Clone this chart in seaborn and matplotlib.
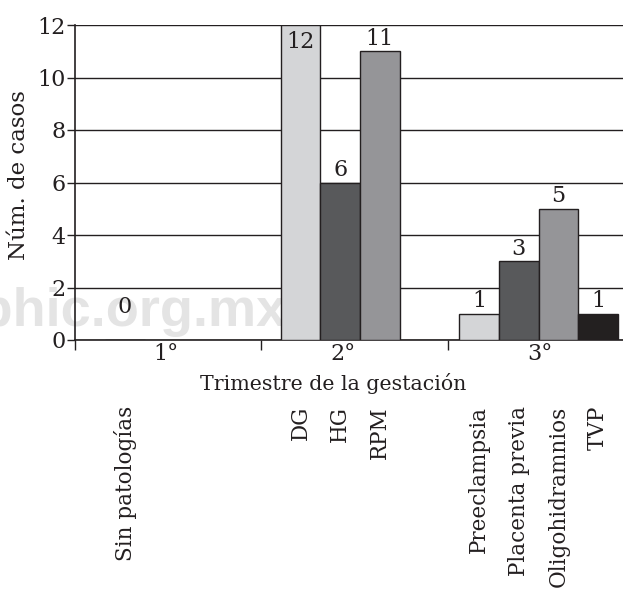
import matplotlib
matplotlib.use("Agg")
import matplotlib.pyplot as plt
import matplotlib.transforms as mtransforms
import seaborn as sns
import pandas as pd

# ---- data ----
categorias = ["Sin patologías", "DG", "HG", "RPM",
              "Preeclampsia", "Placenta previa", "Oligohidramnios", "TVP"]
trimestre = [1, 2, 2, 2, 3, 3, 3, 3]
casos = [0, 12, 6, 11, 1, 3, 5, 1]
trimestre_labels = ["1°", "2°", "3°"]
yticks = [0, 2, 4, 6, 8, 10, 12]

# ---- layout ----
W, H, DPI = 623, 589, 100
first_center = {1: 1.26, 2: 5.68, 3: 10.18}
group_bounds = [0, 4.685, 9.395]
group_label_x = [2.29, 6.75, 11.71]
shade = ["#d4d5d7", "#58595b", "#949598", "#231f20"]
ink = "#231f20"

pos, cols, seen = [], {}, {}
for c, t in zip(categorias, trimestre):
    k = seen.get(t, 0)
    seen[t] = k + 1
    pos.append(first_center[t] + k)
    cols[c] = shade[k]

df = pd.DataFrame({"cat": categorias, "pos": pos, "casos": casos})

sns.set_style("white")
plt.rcParams["font.family"] = ["DejaVu Serif"]

fig = plt.figure(figsize=(W / DPI, H / DPI), dpi=DPI)
ax = fig.add_axes([75 / W, 1 - 340 / H, 1 - 75 / W, 315 / H])
ax.patch.set_facecolor("none")

# watermark
fig.text(287 / W, 1 - 326 / H, "medigraphic.org.mx", ha="right", va="baseline",
         fontsize=39, fontweight="bold", color="#e4e4e4",
         family=["Liberation Sans"], zorder=-5)

sns.barplot(data=df, x="pos", y="casos", hue="cat", palette=cols,
            dodge=False, native_scale=True, width=1.0, errorbar=None,
            edgecolor=ink, linewidth=1.0, legend=False, ax=ax, zorder=3)

ax.set_xlim(0, (W - 75) / 39.7)
ax.set_ylim(0, 12)
ax.set_yticks(yticks)
ax.set_yticklabels([str(v) for v in yticks], fontsize=16, color=ink)
ax.yaxis.grid(True, color=ink, linewidth=1.0, zorder=1)
ax.set_axisbelow(True)
ax.tick_params(axis="y", direction="out", length=6, width=1, color=ink,
               left=True, pad=1)

ax.set_xticks(group_bounds)
ax.set_xticklabels([""] * len(group_bounds))
ax.set_xticks(group_label_x, minor=True)
ax.set_xticklabels(trimestre_labels, minor=True, fontsize=16, color=ink)
ax.tick_params(axis="x", which="major", direction="out", length=7, width=1,
               color=ink, bottom=True)
ax.tick_params(axis="x", which="minor", length=0, pad=2)
ax.set_xlabel("")
ax.set_ylabel("")

for s in ["top", "right"]:
    ax.spines[s].set_visible(False)
for s in ["left", "bottom"]:
    ax.spines[s].set_color(ink)
    ax.spines[s].set_linewidth(1.2)

# value labels
for p, v in zip(pos, casos):
    if v >= 12:
        y = v - 0.63
    elif v == 0:
        y = 1.24
    else:
        y = v + 0.48
    ax.text(p, y, str(v), ha="center", va="center", fontsize=16,
            color=ink, zorder=5)

# rotated category labels
trans = mtransforms.blended_transform_factory(ax.transData, fig.transFigure)
for p, c in zip(pos, categorias):
    ax.text(p, 1 - 406 / H, c, rotation=90, ha="center", va="top",
            fontsize=15.5, color=ink, transform=trans, clip_on=False)

fig.text(333 / W, 1 - 384 / H, "Trimestre de la gestación", ha="center",
         va="center", fontsize=14.8, color=ink)
fig.text(19 / W, 1 - 175 / H, "Núm. de casos", ha="center", va="center",
         rotation=90, fontsize=16.5, color=ink)

fig.savefig("out.png", dpi=DPI)
